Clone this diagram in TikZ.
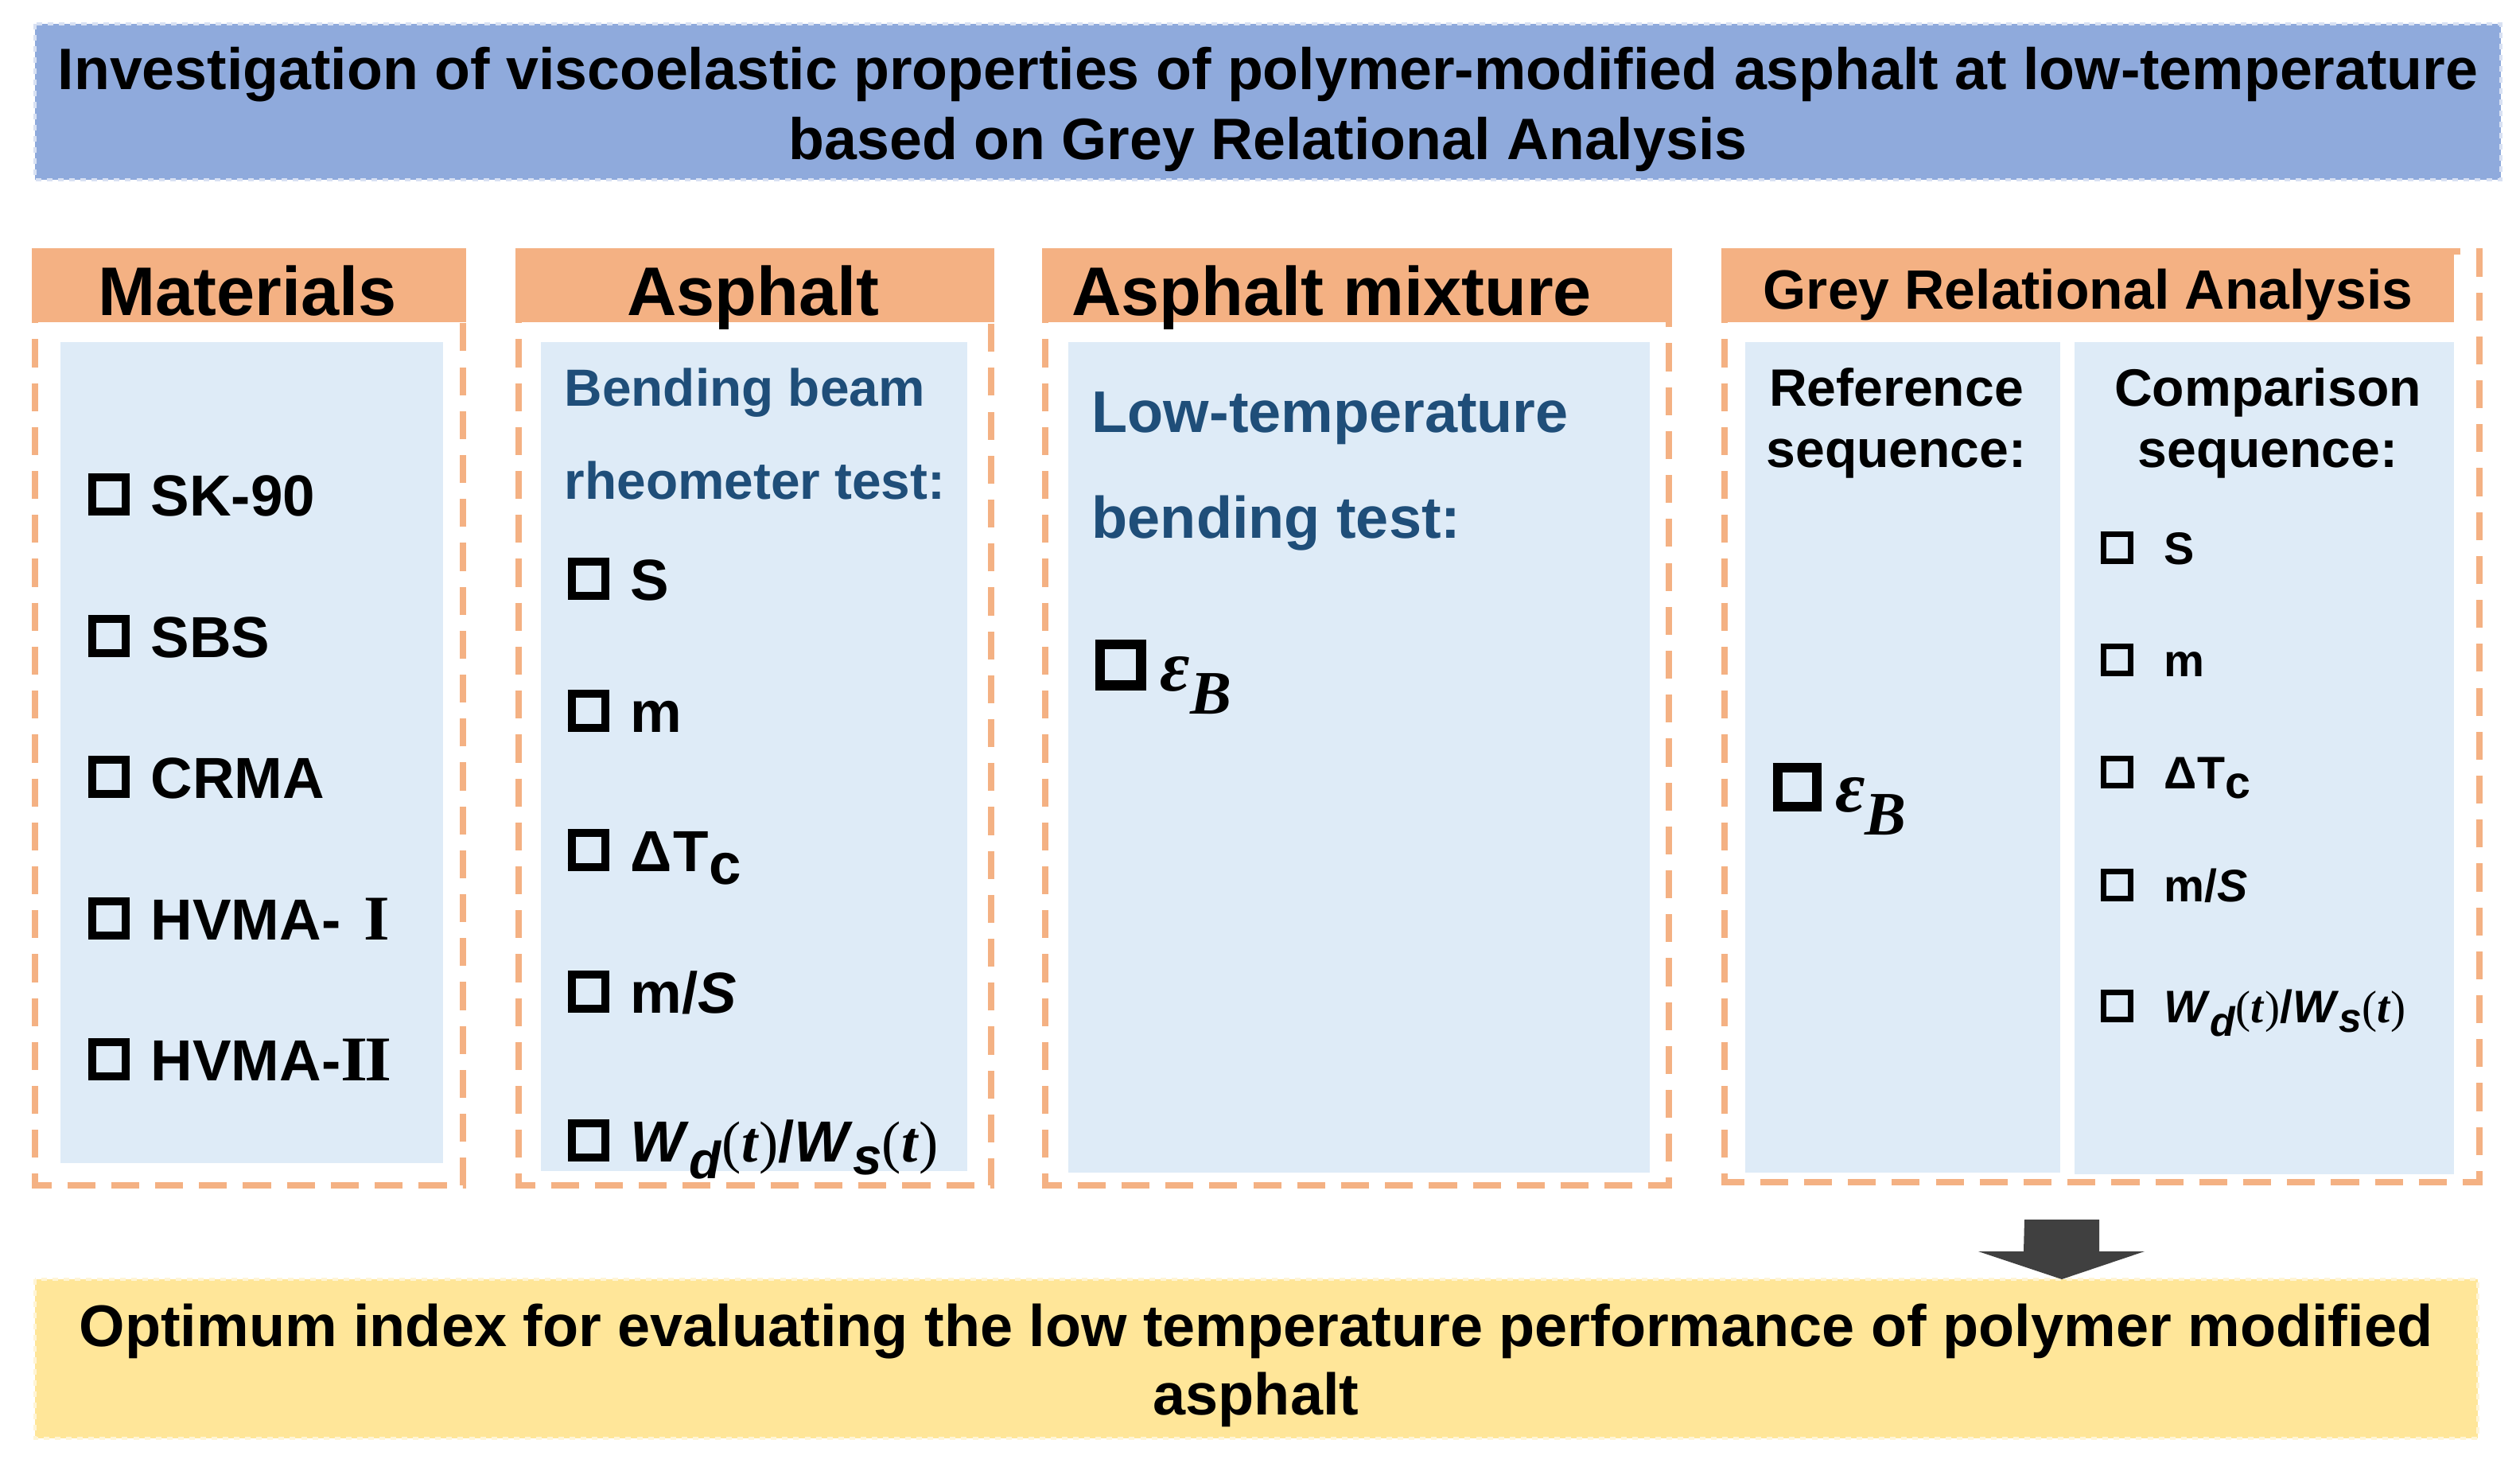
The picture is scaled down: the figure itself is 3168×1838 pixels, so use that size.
\documentclass[tikz,border=0pt]{standalone}
\usepackage{fontspec}
\setmainfont{Liberation Sans}
\newfontfamily\serifit{Liberation Serif}
\definecolor{titleblue}{HTML}{8FAADC}
\definecolor{hdr}{HTML}{F4B183}
\definecolor{innerc}{HTML}{DEEBF7}
\definecolor{ylw}{HTML}{FFE699}
\definecolor{txtblue}{HTML}{1F4E79}
\definecolor{arrowc}{HTML}{404040}
\newcommand\cbx[3]{\raisebox{#2}{\setlength\fboxrule{#2}\setlength\fboxsep{0pt}\fbox{\rule{0pt}{\dimexpr#1-2\fboxrule\relax}\rule{\dimexpr#1-2\fboxrule\relax}{0pt}}}\hspace{#3}}
\newcommand\wdws{\textit{W}\raisebox{-0.3em}{\scalebox{0.9}{\textit{d}}}{\serifit\mdseries(}{\serifit\textit{t}}{\serifit\mdseries)}/\textit{W}\raisebox{-0.22em}{\scalebox{0.9}{\textit{s}}}{\serifit\mdseries(}{\serifit\textit{t}}{\serifit\mdseries)}}
\newcommand\dtc{Δ\kern0.02emT\raisebox{-0.22em}{c}}
\newcommand\epsb{{\serifit\bfseries\itshape ε\raisebox{-0.32em}{\scalebox{0.85}{B}}}}
\newcommand\romI{{\serifit\bfseries\scalebox{1.15}[1.1]{I}}}
\newcommand\romII{{\serifit\bfseries\scalebox{1.2}[1.1]{I\kern-0.04emI}}}
\tikzset{
  panel/.style={draw=hdr, line width=2.3pt, dash pattern=on 10pt off 5.7pt},
  hdrtxt/.style={anchor=base, inner sep=0pt, font=\fontsize{24.6}{29}\selectfont\bfseries},
  bigtxt/.style={anchor=base, inner sep=0pt, font=\fontsize{20.9}{25}\selectfont\bfseries},
  item/.style={anchor=base west, inner sep=0pt, font=\fontsize{20.7}{24}\selectfont\bfseries},
  smallitem/.style={anchor=base west, inner sep=0pt, font=\fontsize{16.3}{19}\selectfont\bfseries},
  bluetxt/.style={anchor=base west, inner sep=0pt, text=txtblue, font=\fontsize{18.7}{22}\selectfont\bfseries},
  seqtxt/.style={anchor=base, inner sep=0pt, font=\fontsize{18.8}{22}\selectfont\bfseries},
}
\begin{document}
\begin{tikzpicture}[x=0.01cm,y=-0.01cm]
\useasboundingbox (0,0) rectangle (3168,1838);
\fill[white] (0,0) rectangle (3168,1838);
% title
\fill[titleblue] (44,30) rectangle (3144,226);
\draw[titleblue!35!white, line width=1pt, dash pattern=on 2pt off 2pt] (44,30) rectangle (3144,226);
\node[bigtxt] (t1) at (1594,112) {Investigation of viscoelastic properties of polymer-modified asphalt at low-temperature};
\node[bigtxt] (t2) at (1594,200) {based on Grey Relational Analysis};
% panels
\draw[panel] (44,316) rectangle (582,1490);
\fill[hdr] (40,312) rectangle (586,405);
\fill[innerc] (76,430) rectangle (557,1462);
\draw[panel] (652,316) rectangle (1246,1490);
\fill[hdr] (648,312) rectangle (1250,405);
\fill[innerc] (680,430) rectangle (1216,1472);
\draw[panel] (1314,316) rectangle (2098,1490);
\fill[hdr] (1310,312) rectangle (2102,405);
\fill[innerc] (1343,430) rectangle (2074,1474);
\draw[panel] (2168,316) rectangle (3117,1486);
\fill[hdr] (2164,312) rectangle (3085,405);
\fill[innerc] (2194,430) rectangle (2590,1474);
\fill[innerc] (2608,430) rectangle (3085,1476);
% headers
\node[hdrtxt] (hmat) at (311,396) {Materials};
\node[hdrtxt] (hasp) at (947,396) {Asphalt};
\node[hdrtxt] (hmix) at (1674,396) {Asphalt mixture};
\node[hdrtxt, font=\fontsize{19.8}{24}\selectfont\bfseries] (hgra) at (2625,388) {Grey Relational Analysis};
% materials
\node[item] (m1) at (110,648) {\cbx{15pt}{2.9pt}{7.5pt}SK-90};
\node[item] (m2) at (110,826) {\cbx{15pt}{2.9pt}{7.5pt}SBS};
\node[item] (m3) at (110,1003) {\cbx{15pt}{2.9pt}{7.5pt}CRMA};
\node[item] (m4) at (110,1181) {\cbx{15pt}{2.9pt}{7.5pt}HVMA-\hspace{0.4em}\romI};
\node[item] (m5) at (110,1358) {\cbx{15pt}{2.9pt}{7.5pt}HVMA-\romII};
% asphalt
\node[bluetxt] (a0) at (709,510) {Bending beam};
\node[bluetxt] (a00) at (709,627) {rheometer test:};
\node[item] (a1) at (713,754) {\cbx{15pt}{2.9pt}{7.5pt}S};
\node[item] (a2) at (713,920) {\cbx{15pt}{2.9pt}{7.5pt}m};
\node[item] (a3) at (713,1095) {\cbx{15pt}{2.9pt}{7.5pt}\dtc};
\node[item] (a4) at (713,1273) {\cbx{15pt}{2.9pt}{7.5pt}m/\textit{S}};
\node[item] (a5) at (713,1460) {\cbx{15pt}{2.9pt}{7.5pt}\wdws};
% mixture
\node[bluetxt, font=\fontsize{21}{25}\selectfont\bfseries] (x0) at (1372,543) {Low-temperature};
\node[bluetxt, font=\fontsize{21}{25}\selectfont\bfseries] (x00) at (1372,676) {bending test:};
\node[item, font=\fontsize{26}{30}\selectfont\bfseries] (x1) at (1376,868) {\cbx{18.3pt}{3.6pt}{5pt}\epsb};
% GRA
\node[seqtxt] (r0) at (2384,510) {Reference};
\node[seqtxt] (r00) at (2384,587) {sequence:};
\node[seqtxt] (c0) at (2851,510) {Comparison};
\node[seqtxt] (c00) at (2851,587) {sequence:};
\node[item, font=\fontsize{26}{30}\selectfont\bfseries] (r1) at (2228,1020) {\cbx{17.4pt}{3.4pt}{5pt}\epsb};
\node[smallitem] (c1) at (2640,709) {\cbx{11.8pt}{2.1pt}{10.8pt}S};
\node[smallitem] (c2) at (2640,850) {\cbx{11.8pt}{2.1pt}{10.8pt}m};
\node[smallitem] (c3) at (2640,991) {\cbx{11.8pt}{2.1pt}{10.8pt}\dtc};
\node[smallitem] (c4) at (2640,1133) {\cbx{11.8pt}{2.1pt}{10.8pt}m/\textit{S}};
\node[smallitem] (c5) at (2640,1285) {\cbx{11.8pt}{2.1pt}{10.8pt}\wdws};
% result
\fill[ylw] (44,1608) rectangle (3115,1808);
\draw[ylw!40!white, line width=1pt, dash pattern=on 2pt off 2pt] (44,1608) rectangle (3115,1808);
\node[bigtxt, font=\fontsize{21}{25}\selectfont\bfseries] (b1) at (1579,1692) {Optimum index for evaluating the low temperature performance of polymer modified};
\node[bigtxt, font=\fontsize{21}{25}\selectfont\bfseries] (b2) at (1579,1778) {asphalt};
\coordinate (arrtop) at (2592,1533);
\coordinate (arrtip) at (2592,1608);
\fill[arrowc] (arrtop) ++(-47,0) -- ++(94,0) -- ++(0,40) -- ++(57,0) -- (arrtip) -- ++(-105,-35) -- ++(57,0) -- cycle;
\end{tikzpicture}
\end{document}
